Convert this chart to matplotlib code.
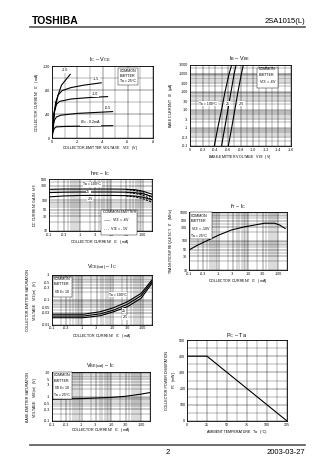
import matplotlib
matplotlib.use('Agg')
import matplotlib.pyplot as plt
from matplotlib.ticker import FixedLocator, FixedFormatter, MultipleLocator, LogLocator, NullFormatter

plt.rcParams['font.family'] = ['Liberation Sans', 'DejaVu Sans']
plt.rcParams['mathtext.fontset'] = 'custom'
plt.rcParams['mathtext.rm'] = 'Liberation Sans'
plt.rcParams['mathtext.it'] = 'Liberation Sans'

# ---------------- data ----------------
# IC - VCE (Ta = 25C), curves by IB (mA)
ib_labels = ['-2.0', '-1.5', '-1.0', '-0.5', 'I$_B$ = -0.2mA']
vce_20 = [0, -0.19, -0.47, -0.75, -1.17, -1.44]
ic_20 = [0, -43, -71, -88, -99, -106]
vce_15 = [0, -0.15, -0.3, -0.5, -0.8, -1.5, -2.5, -3.9]
ic_15 = [0, -40, -60, -72, -79, -84, -88, -92]
vce_10 = [0, -0.1, -0.2, -0.35, -0.6, -1.5, -3.0, -4.4]
ic_10 = [0, -25, -45, -56, -61, -65, -67.5, -69]
vce_05 = [0, -0.1, -0.2, -0.35, -0.7, -2.0, -4.8]
ic_05 = [0, -20, -30, -35, -38, -41, -44]
vce_02 = [0, -0.08, -0.18, -0.35, -1.0, -4.8]
ic_02 = [0, -10, -16, -18.5, -19.2, -20.5]

# IB - VBE (VCE = -6V), IB magnitude in uA
ib_vals = [0.1, 1, 10, 100, 1000, 3000]
vbe_100 = [-0.385, -0.44, -0.50, -0.555, -0.62, -0.66]
vbe_25 = [-0.50, -0.55, -0.60, -0.65, -0.70, -0.73]
vbe_m25 = [-0.607, -0.66, -0.71, -0.76, -0.815, -0.845]

# hFE - IC
ic_h = [0.1, 0.3, 1, 3, 10, 30, 60, 100, 200]
hfe_100 = [230, 235, 235, 235, 235, 232, 222, 200, 160]
hfe_25 = [180, 185, 187, 187, 187, 185, 178, 165, 135]
hfe_m25 = [130, 140, 145, 145, 145, 143, 138, 128, 105]
ic_h1 = [30, 60, 100, 200]
hfe_100_1v = [228, 210, 180, 125]
hfe_25_1v = [182, 168, 148, 108]
hfe_m25_1v = [140, 130, 115, 88]

# fT - IC
ic_f = [0.1, 0.2, 0.45, 1, 2.7, 7.6, 16, 35, 77, 113, 174]
ft = [49, 73, 108, 160, 240, 310, 355, 410, 410, 355, 270]

# VCE(sat) - IC
ic_s = [0.1, 1.1, 4, 11, 31, 87, 200]
vsat_100 = [0.026, 0.026, 0.033, 0.048, 0.083, 0.18, 0.63]
vsat_25 = [0.022, 0.022, 0.027, 0.0385, 0.066, 0.146, 0.54]
vsat_m25 = [0.0188, 0.0188, 0.0227, 0.033, 0.0525, 0.114, 0.46]

# VBE(sat) - IC
ic_b = [0.1, 1, 10, 30, 100, 200]
vbesat = [0.78, 0.82, 0.92, 1.02, 1.25, 1.45]

# PC - Ta
ta = [0, 25, 125]
pc = [400, 400, 0]

# tick labels
ic_ticks = [0.1, 0.3, 1, 3, 10, 30, 100]
ic_ticklabels = ['-0.1', '-0.3', '-1', '-3', '-10', '-30', '-100']

# ---------------- figure ----------------
W, H = 336, 475
fig = plt.figure(figsize=(3.36, 4.75), dpi=100)
fig.patch.set_facecolor('white')

FS = 2.6
LW = 0.8


def axes_px(l, t, r, b):
    return fig.add_axes([l / W, 1 - b / H, (r - l) / W, (b - t) / H])


def ftext(x, y, s, **kw):
    kw.setdefault('fontsize', FS)
    kw.setdefault('ha', 'center')
    kw.setdefault('va', 'center')
    fig.text(x / W, 1 - y / H, s, **kw)


def style(ax):
    for s in ax.spines.values():
        s.set_linewidth(0.6)
    ax.tick_params(which='both', length=0, labelsize=FS, pad=1.2)
    ax.grid(which='major', color='k', lw=0.3)
    ax.grid(which='minor', color='k', lw=0.2)
    ax.set_axisbelow(True)


def box(ax, x, y, s, **kw):
    ax.text(x, y, s, transform=ax.transAxes, fontsize=FS, ha='left', va='top',
            linespacing=1.4,
            bbox=dict(fc='white', ec='black', lw=0.3, pad=1.0), zorder=5, **kw)


def lab(ax, x, y, s, ha='center'):
    ax.text(x, y, s, transform=ax.transAxes, fontsize=FS, ha=ha, va='center',
            bbox=dict(fc='white', ec='none', pad=0.3), zorder=5)


def ic_xaxis(ax):
    ax.set_xscale('log')
    ax.set_xlim(0.1, 200)
    ax.xaxis.set_major_locator(FixedLocator(ic_ticks))
    ax.xaxis.set_major_formatter(FixedFormatter(ic_ticklabels))
    ax.xaxis.set_minor_locator(LogLocator(base=10, subs=range(2, 10), numticks=20))
    ax.xaxis.set_minor_formatter(NullFormatter())


def log_y(ax, lo, hi, ticks, labels):
    ax.set_yscale('log')
    ax.set_ylim(lo, hi)
    ax.yaxis.set_major_locator(FixedLocator(ticks))
    ax.yaxis.set_major_formatter(FixedFormatter(labels))
    ax.yaxis.set_minor_locator(LogLocator(base=10, subs=range(2, 10), numticks=20))
    ax.yaxis.set_minor_formatter(NullFormatter())


# header / footer
ftext(32, 21.5, 'TOSHIBA', fontsize=7.5, fontweight='bold', ha='left')
ftext(305, 21.5, '2SA1015(L)', fontsize=5.5, ha='right')
fig.add_artist(plt.Line2D([30 / W, 305 / W], [1 - 26.5 / H, 1 - 26.5 / H], color='#555555', lw=1.2))
fig.add_artist(plt.Line2D([30 / W, 305 / W], [1 - 444.5 / H, 1 - 444.5 / H], color='#555555', lw=1.2))
ftext(168, 452, '2', fontsize=5.5)
ftext(305, 452, '2003-03-27', fontsize=5.5, ha='right')

# ---- Chart 1: IC - VCE ----
a1 = axes_px(52, 66, 153, 138)
style(a1)
for vx, iy in [(vce_20, ic_20), (vce_15, ic_15), (vce_10, ic_10), (vce_05, ic_05), (vce_02, ic_02)]:
    a1.plot(vx, iy, color='k', lw=LW)
a1.set_xlim(0, -8)
a1.set_ylim(0, -120)
a1.xaxis.set_major_locator(FixedLocator([0, -2, -4, -6, -8]))
a1.xaxis.set_major_formatter(FixedFormatter(['0', '-2', '-4', '-6', '-8']))
a1.xaxis.set_minor_locator(MultipleLocator(1))
a1.yaxis.set_major_locator(FixedLocator([0, -40, -80, -120]))
a1.yaxis.set_major_formatter(FixedFormatter(['0', '-40', '-80', '-120']))
a1.yaxis.set_minor_locator(MultipleLocator(20))
box(a1, 0.67, 0.96, 'COMMON\nEMITTER\nTa = 25°C')
for (x, y), s in zip([(0.13, 0.94), (0.44, 0.82), (0.43, 0.61), (0.55, 0.42), (0.38, 0.22)], ib_labels):
    lab(a1, x, y, s)
ftext(100, 59.5, 'I$_C$ – V$_{CE}$', fontsize=4)
ftext(100, 148, 'COLLECTOR-EMITTER VOLTAGE   V$_{CE}$   (V)')
ftext(37, 102, 'COLLECTOR CURRENT   I$_C$   (mA)', rotation=90)

# ---- Chart 2: IB - VBE ----
a2 = axes_px(190, 65, 291, 146)
style(a2)
for v in [vbe_100, vbe_25, vbe_m25]:
    a2.plot(v, ib_vals, color='k', lw=LW)
a2.set_xlim(0, -1.6)
xt = [0, -0.2, -0.4, -0.6, -0.8, -1.0, -1.2, -1.4, -1.6]
a2.xaxis.set_major_locator(FixedLocator(xt))
a2.xaxis.set_major_formatter(FixedFormatter(['0', '-0.2', '-0.4', '-0.6', '-0.8', '-1.0', '-1.2', '-1.4', '-1.6']))
a2.xaxis.set_minor_locator(MultipleLocator(0.1))
log_y(a2, 0.1, 3000, [0.1, 0.3, 1, 3, 10, 30, 100, 300, 1000, 3000],
      ['-0.1', '-0.3', '-1', '-3', '-10', '-30', '-100', '-300', '-1000', '-3000'])
box(a2, 0.68, 0.97, 'COMMON\nEMITTER\nV$_{CE}$ = -6V')
lab(a2, 0.18, 0.52, 'Ta = 100°C')
lab(a2, 0.37, 0.52, '25')
lab(a2, 0.51, 0.52, '-25')
ftext(240, 59, 'I$_B$ – V$_{BE}$', fontsize=4)
ftext(240, 157, 'BASE-EMITTER VOLTAGE   V$_{BE}$   (V)')
ftext(171, 105, 'BASE CURRENT   I$_B$   (μA)', rotation=90)

# ---- Chart 3: hFE - IC ----
a3 = axes_px(49, 179, 152, 231)
style(a3)
ic_xaxis(a3)
log_y(a3, 10, 500, [10, 30, 50, 100, 300, 500], ['10', '30', '50', '100', '300', '500'])
for h in [hfe_100, hfe_25, hfe_m25]:
    a3.plot(ic_h, h, color='k', lw=LW)
for h in [hfe_100_1v, hfe_25_1v, hfe_m25_1v]:
    a3.plot(ic_h1, h, color='k', lw=LW, ls=(0, (2, 1)))
lab(a3, 0.42, 0.90, 'Ta = 100°C')
lab(a3, 0.38, 0.75, '25')
lab(a3, 0.40, 0.62, '-25')
box(a3, 0.52, 0.40, 'COMMON EMITTER\n——  V$_{CE}$ = -6V\n- - -  V$_{CE}$ = -1V')
ftext(100, 174, 'h$_{FE}$ – I$_C$', fontsize=4)
ftext(100, 242, 'COLLECTOR CURRENT   I$_C$   (mA)')
ftext(35, 205, 'DC CURRENT GAIN   h$_{FE}$', rotation=90)

# ---- Chart 4: fT - IC ----
a4 = axes_px(189, 212, 287, 270)
style(a4)
ic_xaxis(a4)
log_y(a4, 10, 1000, [10, 30, 50, 100, 300, 500, 1000], ['10', '30', '50', '100', '300', '500', '1000'])
a4.plot(ic_f, ft, color='k', lw=LW)
box(a4, 0.02, 0.97, 'COMMON\nEMITTER\nV$_{CE}$ = -10V\nTa = 25°C')
ftext(238, 207, 'f$_T$ – I$_C$', fontsize=4)
ftext(238, 281, 'COLLECTOR CURRENT   I$_C$   (mA)')
ftext(171, 241, 'TRANSITION FREQUENCY   f$_T$   (MHz)', rotation=90)

# ---- Chart 5: VCE(sat) - IC ----
a5 = axes_px(52, 275, 152, 324.5)
style(a5)
ic_xaxis(a5)
log_y(a5, 0.01, 1, [0.01, 0.03, 0.05, 0.1, 0.3, 0.5, 1],
      ['-0.01', '-0.03', '-0.05', '-0.1', '-0.3', '-0.5', '-1'])
for v in [vsat_100, vsat_25, vsat_m25]:
    a5.plot(ic_s, v, color='k', lw=LW)
box(a5, 0.02, 0.96, 'COMMON\nEMITTER\nI$_C$/I$_B$ = 10')
lab(a5, 0.66, 0.60, 'Ta = 100°C')
lab(a5, 0.72, 0.28, '25')
lab(a5, 0.73, 0.15, '-25')
ftext(102, 268, 'V$_{CE\\,(sat)}$ – I$_C$', fontsize=4)
ftext(102, 336, 'COLLECTOR CURRENT   I$_C$   (mA)')
ftext(33, 300, 'COLLECTOR-EMITTER SATURATION\nVOLTAGE   V$_{CE\\,(sat)}$   (V)', rotation=90, linespacing=1.2)

# ---- Chart 6: VBE(sat) - IC ----
a6 = axes_px(52, 372, 150, 421)
style(a6)
ic_xaxis(a6)
log_y(a6, 0.1, 10, [0.1, 0.3, 0.5, 1, 3, 5, 10],
      ['-0.1', '-0.3', '-0.5', '-1', '-3', '-5', '-10'])
a6.plot(ic_b, vbesat, color='k', lw=LW)
box(a6, 0.02, 0.97, 'COMMON\nEMITTER\nI$_C$/I$_B$ = 10\nTa = 25°C')
ftext(101, 367, 'V$_{BE\\,(sat)}$ – I$_C$', fontsize=4)
ftext(101, 430, 'COLLECTOR CURRENT   I$_C$   (mA)')
ftext(33, 397, 'BASE-EMITTER SATURATION\nVOLTAGE   V$_{BE\\,(sat)}$   (V)', rotation=90, linespacing=1.2)

# ---- Chart 7: PC - Ta ----
a7 = axes_px(187, 340, 287, 421)
style(a7)
a7.plot(ta, pc, color='k', lw=LW)
a7.set_xlim(0, 125)
a7.set_ylim(0, 500)
a7.xaxis.set_major_locator(FixedLocator([0, 25, 50, 75, 100, 125]))
a7.xaxis.set_minor_locator(MultipleLocator(12.5))
a7.yaxis.set_major_locator(FixedLocator([0, 100, 200, 300, 400, 500]))
a7.yaxis.set_minor_locator(MultipleLocator(50))
ftext(237, 336, 'P$_C$ – Ta', fontsize=4)
ftext(237, 432, 'AMBIENT TEMPERATURE   Ta   (°C)')
ftext(172, 380, 'COLLECTOR POWER DISSIPATION\nP$_C$   (mW)', rotation=90, linespacing=1.2)

fig.savefig('out.png', dpi=100, facecolor='white')
